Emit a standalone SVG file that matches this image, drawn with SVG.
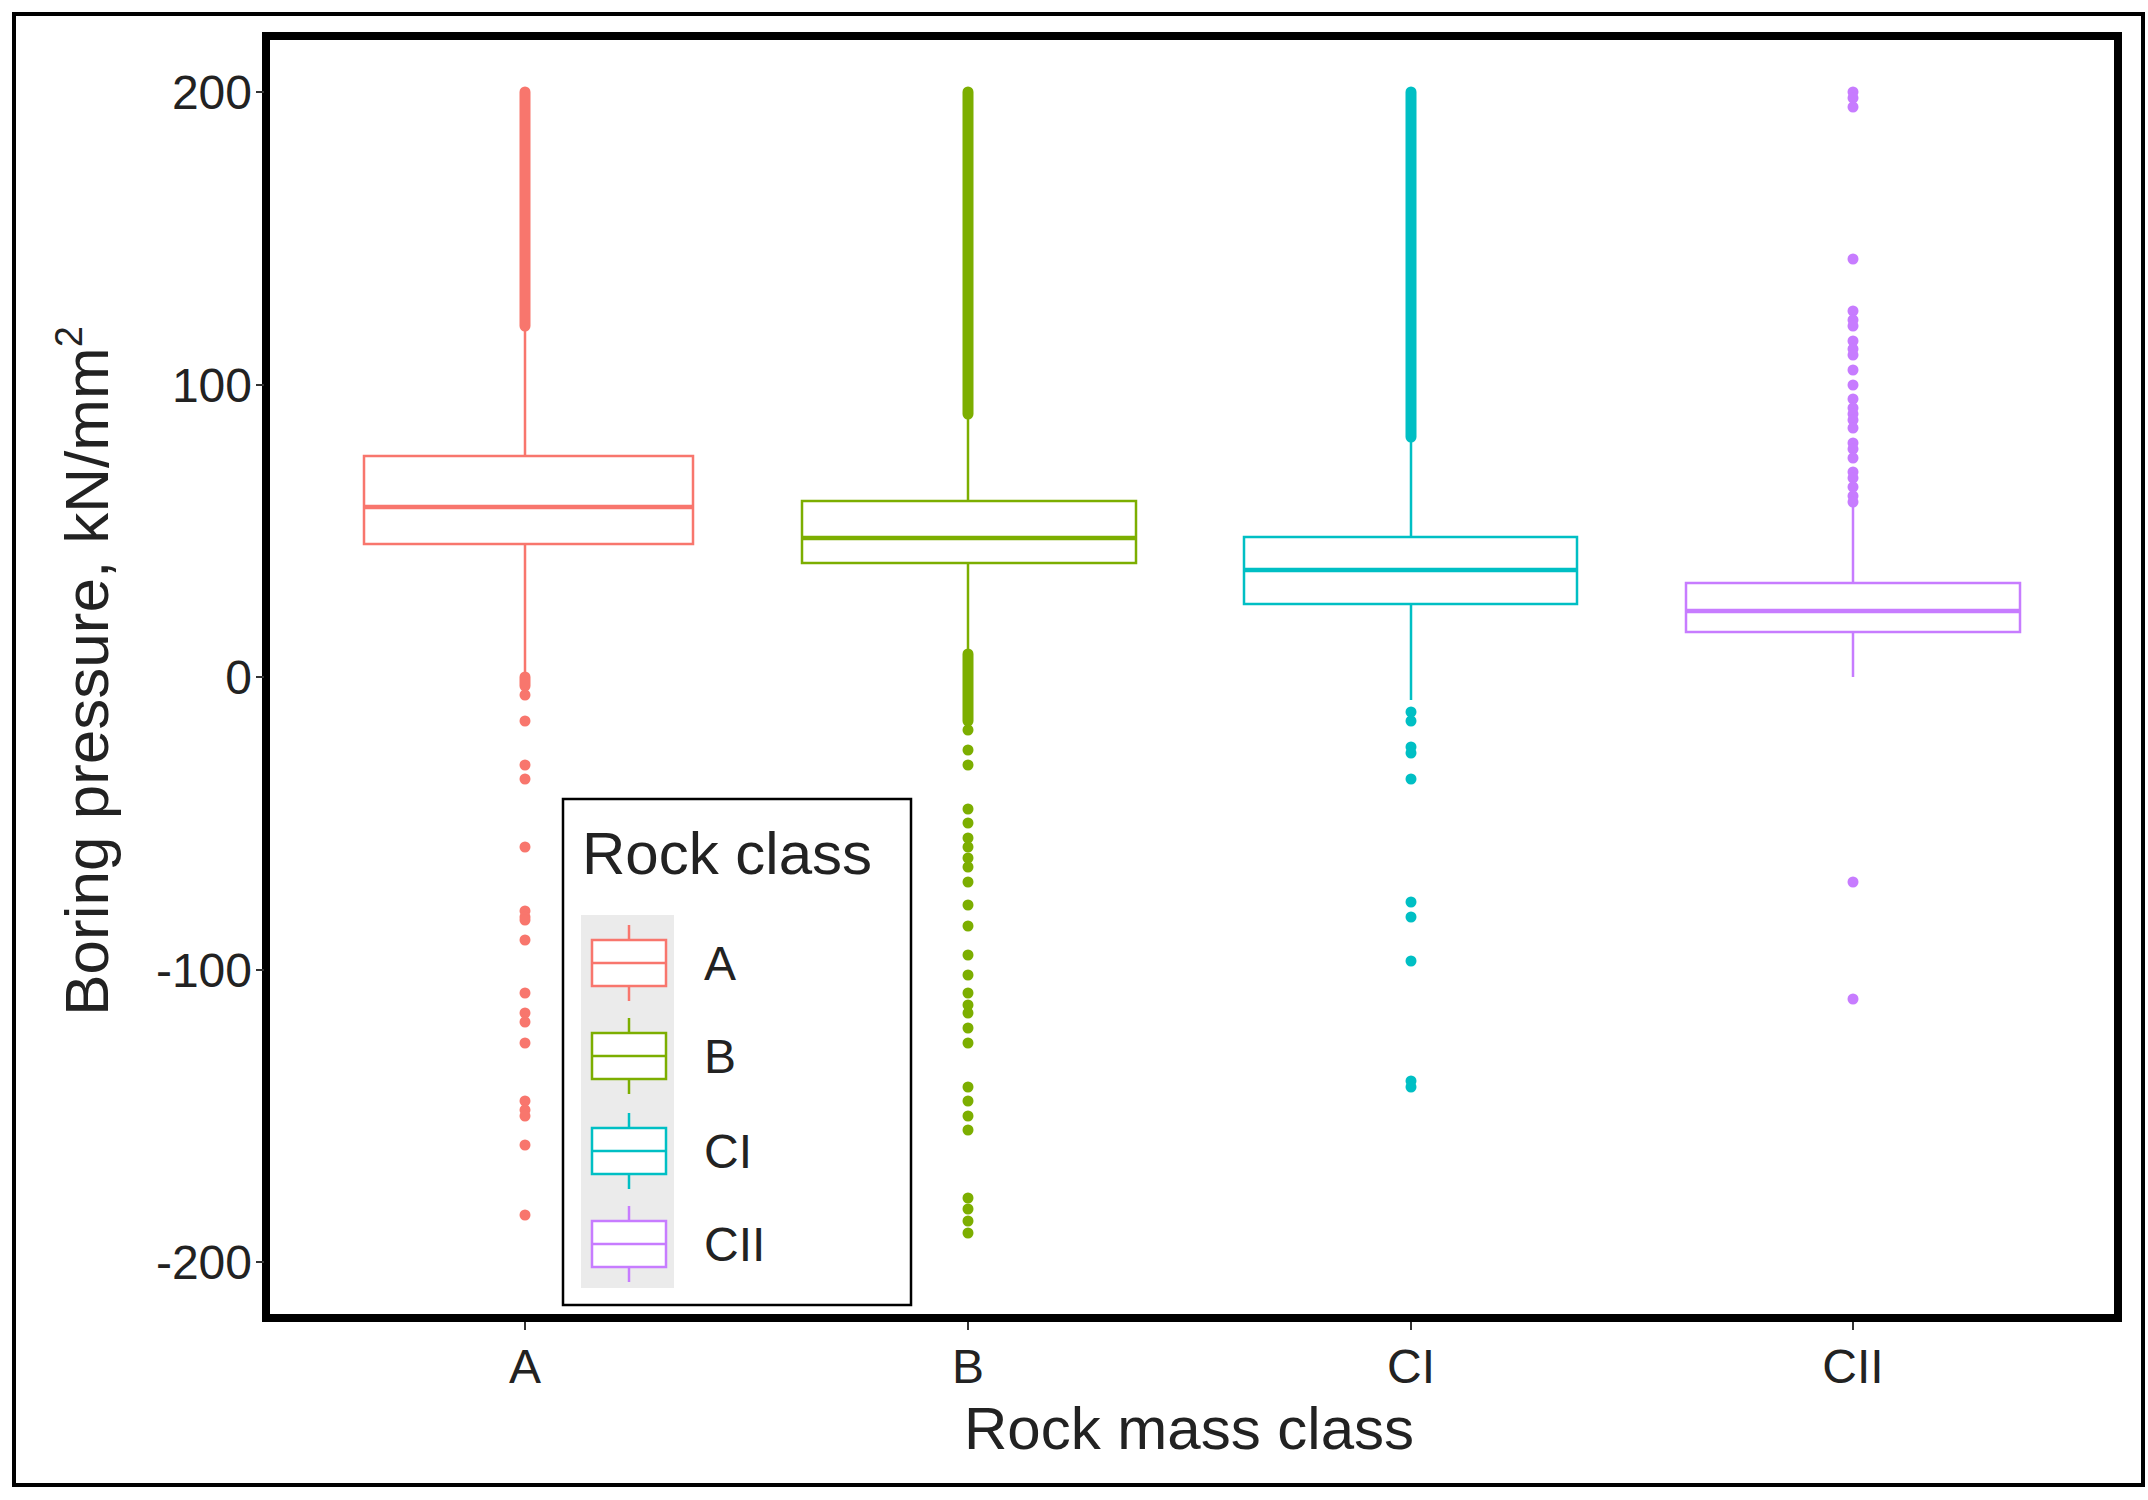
<svg xmlns="http://www.w3.org/2000/svg" width="2148" height="1500" viewBox="0 0 2148 1500">
<style>
text{font-family:"Liberation Sans",Arial,sans-serif;fill:#222}
.tick{font-size:48px}
.box{fill:none;stroke-width:2.5}
.med{stroke-width:4.5}
.wh{stroke-width:2.5}
.dense{stroke-width:11;stroke-linecap:round}
.A{stroke:#F8766D}.Af{fill:#F8766D}
.B{stroke:#7CAE00}.Bf{fill:#7CAE00}
.C{stroke:#00BFC4}.Cf{fill:#00BFC4}
.D{stroke:#C77CFF}.Df{fill:#C77CFF}
</style>
<rect x="0" y="0" width="2148" height="1500" fill="#fff"/>
<rect x="14" y="14" width="2129" height="1471" fill="none" stroke="#000" stroke-width="4"/>
<rect x="266" y="36" width="1852" height="1282" fill="none" stroke="#000" stroke-width="8"/>
<g id="yaxis" stroke="#333" stroke-width="2">
<line x1="256" y1="92" x2="264" y2="92"/><line x1="256" y1="385" x2="264" y2="385"/><line x1="256" y1="677" x2="264" y2="677"/><line x1="256" y1="970" x2="264" y2="970"/><line x1="256" y1="1262" x2="264" y2="1262"/>
<line x1="525" y1="1322" x2="525" y2="1330"/><line x1="968" y1="1322" x2="968" y2="1330"/><line x1="1411" y1="1322" x2="1411" y2="1330"/><line x1="1853" y1="1322" x2="1853" y2="1330"/>
</g>
<g class="tick" text-anchor="end">
<text x="252" y="109">200</text><text x="252" y="402">100</text><text x="252" y="694">0</text><text x="252" y="987">-100</text><text x="252" y="1279">-200</text>
</g>
<g class="tick" text-anchor="middle">
<text x="525" y="1383">A</text><text x="968" y="1383">B</text><text x="1411" y="1383">CI</text><text x="1853" y="1383">CII</text>
</g>
<text x="1189" y="1449" font-size="60" text-anchor="middle">Rock mass class</text>
<text transform="translate(108,671) rotate(-90)" font-size="62" text-anchor="middle">Boring pressure,  kN/mm<tspan dy="-26" font-size="38">2</tspan></text>
<g id="boxA">
<line class="wh A" x1="525" y1="326" x2="525" y2="677"/>
<line class="dense A" x1="525" y1="92" x2="525" y2="326"/>
<line class="dense A" x1="525" y1="677" x2="525" y2="686"/>
<rect class="box A" x="364" y="456" width="329" height="88" style="fill:#fff"/>
<line class="med A" x1="364" y1="507" x2="693" y2="507"/>
<g class="Af"><circle cx="525" cy="695" r="5.5"/><circle cx="525" cy="721" r="5.5"/><circle cx="525" cy="765" r="5.5"/><circle cx="525" cy="779" r="5.5"/><circle cx="525" cy="847" r="5.5"/><circle cx="525" cy="911" r="5.5"/><circle cx="525" cy="917" r="5.5"/><circle cx="525" cy="920" r="5.5"/><circle cx="525" cy="940" r="5.5"/><circle cx="525" cy="993" r="5.5"/><circle cx="525" cy="1013" r="5.5"/><circle cx="525" cy="1022" r="5.5"/><circle cx="525" cy="1043" r="5.5"/><circle cx="525" cy="1101" r="5.5"/><circle cx="525" cy="1110" r="5.5"/><circle cx="525" cy="1116" r="5.5"/><circle cx="525" cy="1145" r="5.5"/><circle cx="525" cy="1215" r="5.5"/></g>
</g>
<g id="boxB">
<line class="wh B" x1="968" y1="414" x2="968" y2="654"/>
<line class="dense B" x1="968" y1="92" x2="968" y2="414"/>
<line class="dense B" x1="968" y1="654" x2="968" y2="721"/>
<rect class="box B" x="802" y="501" width="334" height="62" style="fill:#fff"/>
<line class="med B" x1="802" y1="538" x2="1136" y2="538"/>
<g class="Bf"><circle cx="968" cy="730" r="5.5"/><circle cx="968" cy="750" r="5.5"/><circle cx="968" cy="765" r="5.5"/><circle cx="968" cy="809" r="5.5"/><circle cx="968" cy="823" r="5.5"/><circle cx="968" cy="838" r="5.5"/><circle cx="968" cy="847" r="5.5"/><circle cx="968" cy="858" r="5.5"/><circle cx="968" cy="867" r="5.5"/><circle cx="968" cy="882" r="5.5"/><circle cx="968" cy="905" r="5.5"/><circle cx="968" cy="926" r="5.5"/><circle cx="968" cy="955" r="5.5"/><circle cx="968" cy="975" r="5.5"/><circle cx="968" cy="993" r="5.5"/><circle cx="968" cy="1005" r="5.5"/><circle cx="968" cy="1013" r="5.5"/><circle cx="968" cy="1028" r="5.5"/><circle cx="968" cy="1043" r="5.5"/><circle cx="968" cy="1087" r="5.5"/><circle cx="968" cy="1101" r="5.5"/><circle cx="968" cy="1116" r="5.5"/><circle cx="968" cy="1130" r="5.5"/><circle cx="968" cy="1198" r="5.5"/><circle cx="968" cy="1209" r="5.5"/><circle cx="968" cy="1221" r="5.5"/><circle cx="968" cy="1233" r="5.5"/></g>
</g>
<g id="boxCI">
<line class="wh C" x1="1411" y1="437" x2="1411" y2="700"/>
<line class="dense C" x1="1411" y1="92" x2="1411" y2="437"/>
<rect class="box C" x="1244" y="537" width="333" height="67" style="fill:#fff"/>
<line class="med C" x1="1244" y1="570" x2="1577" y2="570"/>
<g class="Cf"><circle cx="1411" cy="712" r="5.5"/><circle cx="1411" cy="721" r="5.5"/><circle cx="1411" cy="747" r="5.5"/><circle cx="1411" cy="753" r="5.5"/><circle cx="1411" cy="779" r="5.5"/><circle cx="1411" cy="902" r="5.5"/><circle cx="1411" cy="917" r="5.5"/><circle cx="1411" cy="961" r="5.5"/><circle cx="1411" cy="1081" r="5.5"/><circle cx="1411" cy="1087" r="5.5"/></g>
</g>
<g id="boxCII">
<line class="wh D" x1="1853" y1="502" x2="1853" y2="677"/>
<rect class="box D" x="1686" y="583" width="334" height="49" style="fill:#fff"/>
<line class="med D" x1="1686" y1="611" x2="2020" y2="611"/>
<g class="Df"><circle cx="1853" cy="92" r="5.5"/><circle cx="1853" cy="98" r="5.5"/><circle cx="1853" cy="107" r="5.5"/><circle cx="1853" cy="259" r="5.5"/><circle cx="1853" cy="311" r="5.5"/><circle cx="1853" cy="320" r="5.5"/><circle cx="1853" cy="326" r="5.5"/><circle cx="1853" cy="341" r="5.5"/><circle cx="1853" cy="349" r="5.5"/><circle cx="1853" cy="355" r="5.5"/><circle cx="1853" cy="370" r="5.5"/><circle cx="1853" cy="385" r="5.5"/><circle cx="1853" cy="399" r="5.5"/><circle cx="1853" cy="408" r="5.5"/><circle cx="1853" cy="414" r="5.5"/><circle cx="1853" cy="420" r="5.5"/><circle cx="1853" cy="428" r="5.5"/><circle cx="1853" cy="443" r="5.5"/><circle cx="1853" cy="449" r="5.5"/><circle cx="1853" cy="458" r="5.5"/><circle cx="1853" cy="472" r="5.5"/><circle cx="1853" cy="478" r="5.5"/><circle cx="1853" cy="487" r="5.5"/><circle cx="1853" cy="496" r="5.5"/><circle cx="1853" cy="502" r="5.5"/><circle cx="1853" cy="882" r="5.5"/><circle cx="1853" cy="999" r="5.5"/></g>
</g>
<g id="legend">
<rect x="563" y="799" width="348" height="506" fill="#fff" stroke="#000" stroke-width="2.5"/>
<text x="582" y="874" font-size="60">Rock class</text>
<rect x="581" y="915" width="93" height="373" fill="#ebebeb"/>
<g class="A"><line class="wh" x1="629" y1="925" x2="629" y2="1001"/><rect x="592" y="940" width="74" height="46" fill="#fff" stroke-width="2.5"/><line class="wh" x1="592" y1="963" x2="666" y2="963"/></g>
<g class="B"><line class="wh" x1="629" y1="1018" x2="629" y2="1094"/><rect x="592" y="1033" width="74" height="46" fill="#fff" stroke-width="2.5"/><line class="wh" x1="592" y1="1056" x2="666" y2="1056"/></g>
<g class="C"><line class="wh" x1="629" y1="1113" x2="629" y2="1189"/><rect x="592" y="1128" width="74" height="46" fill="#fff" stroke-width="2.5"/><line class="wh" x1="592" y1="1151" x2="666" y2="1151"/></g>
<g class="D"><line class="wh" x1="629" y1="1206" x2="629" y2="1282"/><rect x="592" y="1221" width="74" height="46" fill="#fff" stroke-width="2.5"/><line class="wh" x1="592" y1="1244" x2="666" y2="1244"/></g>
<g font-size="48"><text x="704" y="980">A</text><text x="704" y="1073">B</text><text x="704" y="1168">CI</text><text x="704" y="1261">CII</text></g>
</g>
</svg>
